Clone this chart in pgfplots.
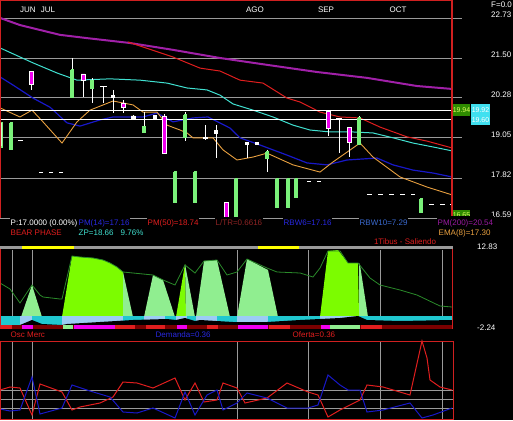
\documentclass[border=0pt]{standalone}
\usepackage{pgfplots}
\pgfplotsset{compat=1.18}
\usepackage{fontspec}
\setmainfont{Liberation Sans}
\definecolor{gridg}{HTML}{9A9A9A}
\definecolor{purp}{HTML}{A020A8}
\definecolor{redl}{HTML}{E01E1E}
\definecolor{cyl}{HTML}{40E0D0}
\definecolor{bll}{HTML}{1818C8}
\definecolor{orl}{HTML}{E8A040}
\definecolor{mag}{HTML}{F000F0}
\definecolor{lgr}{HTML}{90EE90}
\definecolor{chg}{HTML}{7CFC00}
\definecolor{dgr}{HTML}{2A8A2A}
\definecolor{band}{HTML}{20C8D0}
\definecolor{lbl}{HTML}{9CCCF4}
\definecolor{dred}{HTML}{7A0000}
\definecolor{brd}{HTML}{D02020}
\definecolor{boxg}{HTML}{2E8B00}
\definecolor{boxt}{HTML}{E0FF60}
\definecolor{boxc}{HTML}{40E0F0}
\definecolor{yel}{HTML}{FFFF00}
\definecolor{ltr}{HTML}{8E2424}
\definecolor{rbw}{HTML}{3A6AD0}
\definecolor{txb}{HTML}{2828E0}
\definecolor{pur2}{HTML}{9A1AA0}
\pgfplotsset{
  cdw/.style={white, line width=1pt},
  cgr/.style={draw=lgr!85!green, fill=lgr!35!white, line width=1.2pt},
  cmg/.style={draw=white, fill=mag, line width=0.5pt},
  cwh/.style={draw=white, fill=white, line width=0.8pt},
  gl/.style={gridg, line width=0.8pt},
}
\begin{document}
\begin{tikzpicture}
\fill[black] (0pt,0pt) rectangle (513pt,420pt);
% ================= MAIN PRICE PANEL =================
\begin{axis}[at={(0pt,202pt)},anchor=south west,width=513pt,height=218pt,scale only axis,hide axis,clip=false,xmin=0,xmax=513,ymin=16.59,ymax=23.28]
\addplot[gl] coordinates {(0,22.73)(462,22.73)};
\addplot[gl] coordinates {(0,21.50)(462,21.50)};
\addplot[gl] coordinates {(0,20.28)(462,20.28)};
\addplot[gl] coordinates {(0,19.05)(462,19.05)};
\addplot[gl] coordinates {(0,17.82)(462,17.82)};
\addplot[gl] coordinates {(0,16.59)(462,16.59)};
% PM(200)
\addplot[purp,line width=2pt] coordinates {(0,22.73)(20,22.51)(60,22.21)(87,22.11)(130,21.96)(173,21.75)(220,21.50)(267,21.29)(317,21.07)(367,20.89)(417,20.64)(452,20.55)};
% PM(50)
\addplot[redl,line width=1pt] coordinates {(128,21.99)(173,21.53)(200,21.19)(220,21.10)(240,20.82)(263,20.73)(287,20.27)(300,20.15)(320,19.84)(340,19.69)(360,19.66)(380,19.38)(407,19.08)(427,18.95)(452,18.74)};
% RBW10
\addplot[cyl,line width=1pt] coordinates {(0,21.81)(33,21.35)(57,21.04)(77,20.82)(110,20.86)(140,20.82)(167,20.73)(187,20.58)(207,20.52)(220,20.36)(233,20.09)(253,19.90)(273,19.69)(293,19.44)(310,19.29)(330,19.23)(353,19.23)(373,19.20)(393,19.05)(413,18.89)(433,18.77)(452,18.65)};
% PM(14)
\addplot[bll,line width=1.2pt] coordinates {(0,20.92)(13,20.67)(33,20.27)(50,19.99)(67,19.51)(80,19.41)(100,19.60)(113,19.69)(143,19.69)(157,19.81)(173,19.54)(193,19.66)(208,19.69)(230,19.35)(240,19.05)(260,18.83)(287,18.52)(307,18.28)(327,18.22)(347,18.37)(377,18.43)(393,18.22)(413,18.06)(433,17.97)(452,17.85)};
% EMA(8)
\addplot[orl,line width=0.9pt] coordinates {(0,19.97)(20,19.69)(32,19.90)(43,19.54)(62,18.89)(77,19.54)(90,19.90)(113,20.18)(133,20.06)(143,19.84)(157,19.84)(167,19.44)(180,19.29)(187,19.20)(193,19.05)(213,19.05)(223,18.68)(237,18.37)(253,18.46)(267,18.58)(293,18.22)(320,18.00)(333,18.31)(360,18.89)(373,18.46)(400,17.85)(427,17.54)(452,17.30)};
% horizontal levels
\addplot[white,line width=1pt] coordinates {(0,19.90)(452,19.90)};
\addplot[white,line width=1pt] coordinates {(0,19.60)(452,19.60)};
% ---- candles ----
\addplot[cgr] coordinates {(0.5,19.51)(2.5,19.51)(2.5,18.77)(0.5,18.77)(0.5,19.51)};
\addplot[cgr] coordinates {(10,19.51)(12,19.51)(12,18.71)(10,18.71)(10,19.51)};
\addplot[cdw,line width=1.2pt] coordinates {(18,18.98)(23,18.98)};
\addplot[cdw] coordinates {(31,21.10)(31,20.52)};
\addplot[cmg] coordinates {(29,21.10)(33,21.10)(33,20.70)(29,20.70)(29,21.10)};
\addplot[cdw] coordinates {(39,18.00)(43,18.00)};
\addplot[cdw] coordinates {(49,18.00)(53,18.00)};
\addplot[cdw] coordinates {(59,18.00)(63,18.00)};
\addplot[cdw] coordinates {(72,21.50)(72,20.30)};
\addplot[cgr] coordinates {(71,21.13)(73,21.13)(73,20.30)(71,20.30)(71,21.13)};
\addplot[cdw] coordinates {(83,21.01)(83,20.30)};
\addplot[cmg] coordinates {(81,21.01)(85,21.01)(85,20.82)(81,20.82)(81,21.01)};
\addplot[cdw] coordinates {(92,20.89)(92,20.12)};
\addplot[cgr] coordinates {(91,20.82)(93,20.82)(93,20.58)(91,20.58)(91,20.82)};
\addplot[cdw] coordinates {(103,20.64)(103,20.12)};
\addplot[cdw] coordinates {(100,20.64)(107,20.64)};
\addplot[cdw] coordinates {(113,20.52)(113,19.81)};
\addplot[cwh] coordinates {(111.5,20.36)(114.5,20.36)(114.5,20.30)(111.5,20.30)(111.5,20.36)};
\addplot[cdw] coordinates {(123,20.21)(123,19.81)};
\addplot[cmg] coordinates {(121,20.12)(125,20.12)(125,19.99)(121,19.99)(121,20.12)};
\addplot[cdw] coordinates {(133,19.75)(133,19.63)};
\addplot[cwh] coordinates {(131,19.72)(135,19.72)(135,19.66)(131,19.66)(131,19.72)};
\addplot[cdw] coordinates {(144,19.84)(144,19.23)};
\addplot[cgr] coordinates {(143,19.41)(145,19.41)(145,19.23)(143,19.23)(143,19.41)};
\addplot[cwh] coordinates {(153.5,19.75)(156.5,19.75)(156.5,19.66)(153.5,19.66)(153.5,19.75)};
\addplot[cdw] coordinates {(164,19.78)(164,18.58)};
\addplot[cmg] coordinates {(162,19.72)(166,19.72)(166,18.58)(162,18.58)(162,19.72)};
\addplot[cgr] coordinates {(174,18.00)(176,18.00)(176,17.08)(174,17.08)(174,18.00)};
\addplot[cdw] coordinates {(185,19.84)(185,18.95)};
\addplot[cgr] coordinates {(184,19.75)(186,19.75)(186,19.05)(184,19.05)(184,19.75)};
\addplot[cgr] coordinates {(194,18.00)(196,18.00)(196,17.08)(194,17.08)(194,18.00)};
\addplot[cdw] coordinates {(205,19.44)(205,18.98)};
\addplot[cdw,line width=1.5pt] coordinates {(203,19.05)(208,19.05)};
\addplot[cdw] coordinates {(216,19.44)(216,18.43)};
\addplot[cwh] coordinates {(214.5,19.29)(217.5,19.29)(217.5,19.20)(214.5,19.20)(214.5,19.29)};
\addplot[cmg] coordinates {(224,17.08)(228,17.08)(228,16.59)(224,16.59)(224,17.08)};
\addplot[cgr] coordinates {(235,17.79)(237,17.79)(237,16.59)(235,16.59)(235,17.79)};
\addplot[cdw] coordinates {(247,18.92)(247,18.43)};
\addplot[cwh] coordinates {(245.5,18.92)(248.5,18.92)(248.5,18.86)(245.5,18.86)(245.5,18.92)};
\addplot[cwh] coordinates {(255.5,18.92)(258.5,18.92)(258.5,18.86)(255.5,18.86)(255.5,18.92)};
\addplot[cdw] coordinates {(267,18.68)(267,18.00)};
\addplot[cgr] coordinates {(266,18.62)(268,18.62)(268,18.43)(266,18.43)(266,18.62)};
\addplot[cgr] coordinates {(276,17.79)(278,17.79)(278,16.90)(276,16.90)(276,17.79)};
\addplot[cgr] coordinates {(287,17.79)(289,17.79)(289,16.90)(287,16.90)(287,17.79)};
\addplot[cgr] coordinates {(295,17.79)(297,17.79)(297,17.23)(295,17.23)(295,17.79)};
\addplot[cdw] coordinates {(307,17.70)(311,17.70)};
\addplot[cdw] coordinates {(317,17.70)(321,17.70)};
\addplot[cdw] coordinates {(328,19.90)(328,19.11)};
\addplot[cmg] coordinates {(326,19.87)(330,19.87)(330,19.35)(326,19.35)(326,19.87)};
\addplot[cdw] coordinates {(339,19.63)(339,18.58)};
\addplot[cdw] coordinates {(336,19.63)(342,19.63)};
\addplot[cdw] coordinates {(349,19.38)(349,18.46)};
\addplot[cmg] coordinates {(347,19.38)(351,19.38)(351,18.92)(347,18.92)(347,19.38)};
\addplot[cdw] coordinates {(359,19.72)(359,18.86)};
\addplot[cgr] coordinates {(358,19.66)(360,19.66)(360,18.86)(358,18.86)(358,19.66)};
\addplot[cdw] coordinates {(367,17.30)(372,17.30)};
\addplot[cdw] coordinates {(378,17.30)(383,17.30)};
\addplot[cdw] coordinates {(389,17.30)(394,17.30)};
\addplot[cdw] coordinates {(400,17.30)(405,17.30)};
\addplot[cdw] coordinates {(411,17.30)(415,17.30)};
\addplot[cgr] coordinates {(420,17.17)(422,17.17)(422,16.77)(420,16.77)(420,17.17)};
\addplot[cdw] coordinates {(429,16.99)(434,16.99)};
\addplot[cdw] coordinates {(440,16.99)(445,16.99)};
\addplot[cdw] coordinates {(450,16.99)(452,16.99)};
% border
\addplot[brd,line width=1.2pt] coordinates {(0,16.59)(0,23.28)(452,23.28)(452,16.59)};
\end{axis}
% ================= OSCILLATOR + BOTTOM PANEL =================
\begin{axis}[at={(0pt,0pt)},anchor=south west,width=513pt,height=180pt,scale only axis,hide axis,clip=false,xmin=0,xmax=513,ymin=240,ymax=420,y dir=reverse]
\addplot[gl] coordinates {(12,250)(12,317)};
\addplot[gl] coordinates {(32,250)(32,317)};
\addplot[gl] coordinates {(237,250)(237,317)};
\addplot[gl] coordinates {(308,250)(308,317)};
\addplot[gl] coordinates {(380,250)(380,317)};
\addplot[gl] coordinates {(442,250)(442,317)};
% filled areas
\addplot[fill=lgr,draw=none] coordinates {(21,317)(32,285)(42,317)};
\addplot[fill=chg,draw=none] coordinates {(62,317)(72,256)(80,257)(93,258)(103,260)(110,263)(117,267)(123,272)(123,317)};
\addplot[fill=lgr,draw=none] coordinates {(123,272)(133,317)(123,317)};
\addplot[fill=lgr,draw=none] coordinates {(144,317)(153,275)(163,280)(175,317)};
\addplot[fill=chg,draw=none] coordinates {(176,317)(185,264)(186,317)};
\addplot[fill=lgr,draw=none] coordinates {(185,264)(195,317)(186,317)};
\addplot[fill=lgr,draw=none] coordinates {(196,317)(204,261)(217,260)(230,317)};
\addplot[fill=lgr,draw=none] coordinates {(237,317)(247,259)(268,270)(278,317)};
\addplot[fill=chg,draw=none] coordinates {(320,317)(328,251)(338,250)(348,263)(358,263)(359,317)};
\addplot[fill=lgr,draw=none] coordinates {(359,263)(360,265)(368,317)(359,317)};
% band
\addplot[band,line width=9pt] coordinates {(0,320.5)(452,320.5)};
\addplot[fill=lbl,draw=none] coordinates {(20,316)(32,316)(32,325)(20,325)};
\addplot[fill=lbl,draw=none] coordinates {(62,316)(123,316)(123,325)(62,325)};
\addplot[fill=lbl,draw=none] coordinates {(144,316)(165,316)(165,325)(144,325)};
\addplot[fill=lbl,draw=none] coordinates {(176,316)(187,316)(187,325)(176,325)};
\addplot[fill=lbl,draw=none] coordinates {(196,316)(217,316)(217,325)(196,325)};
\addplot[fill=lbl,draw=none] coordinates {(237,316)(268,316)(268,325)(237,325)};
\addplot[fill=lbl,draw=none] coordinates {(320,316)(358,316)(358,319)(320,319)};
\addplot[fill=black,draw=none] coordinates {(0,325)(20,325)(32,320)(42,324)(62,325)(67,324)(100,322)(133,320)(167,319)(176,320)(185,318)(195,321)(200,320)(233,322)(267,322)(300,320)(320,319)(340,318)(358,316)(367,320)(400,321)(452,320)(452,325)};
% bottom stripe
\addplot[dred,line width=4pt] coordinates {(0,327)(452,327)};
\addplot[redl,line width=4pt] coordinates {(0,327)(12,327)};
\addplot[mag,line width=4pt] coordinates {(22,327)(33,327)};
\addplot[lgr,line width=4pt] coordinates {(63,327)(73,327)};
\addplot[mag,line width=4pt] coordinates {(74,327)(115,327)};
\addplot[redl,line width=4pt] coordinates {(115,327)(135,327)};
\addplot[redl,line width=4pt] coordinates {(146,327)(165,327)};
\addplot[mag,line width=4pt] coordinates {(177,327)(187,327)};
\addplot[redl,line width=4pt] coordinates {(207,327)(218,327)};
\addplot[mag,line width=4pt] coordinates {(238,327)(268,327)};
\addplot[redl,line width=4pt] coordinates {(269,327)(290,327)};
\addplot[mag,line width=4pt] coordinates {(321,327)(330,327)};
\addplot[lgr,line width=4pt] coordinates {(330,327)(360,327)};
\addplot[redl,line width=4pt] coordinates {(361,327)(382,327)};
% top bar
\addplot[gridg,line width=3.5pt] coordinates {(0,247.5)(453,247.5)};
\addplot[yel,line width=3.5pt] coordinates {(22,247.5)(74,247.5)};
\addplot[yel,line width=3.5pt] coordinates {(258,247.5)(299,247.5)};
% oscillator line
\addplot[dgr,line width=0.8pt] coordinates {(0,283)(10,289)(20,303)(32,285)(40,295)(43,297)(60,299)(62,299)(72,256)(80,257)(93,258)(103,260)(110,263)(117,267)(123,272)(133,273)(153,275)(163,280)(175,285)(185,265)(195,273)(204,261)(217,260)(227,275)(237,272)(247,259)(267,268)(277,272)(300,273)(313,277)(320,268)(328,251)(340,251)(348,263)(358,263)(370,278)(380,285)(400,290)(417,295)(440,306)(452,307)};
\addplot[brd,line width=1pt] coordinates {(0,249)(0,329)};
\addplot[brd,line width=1pt] coordinates {(452,249)(452,329)};
% ---- Osc Merc panel ----
\addplot[gl] coordinates {(12,341)(12,419)};
\addplot[gl] coordinates {(32,341)(32,419)};
\addplot[gl] coordinates {(237,341)(237,419)};
\addplot[gl] coordinates {(308,341)(308,419)};
\addplot[gl] coordinates {(380,341)(380,419)};
\addplot[gl] coordinates {(442,341)(442,419)};
\addplot[gl] coordinates {(0,390)(453,390)};
\addplot[gl] coordinates {(0,399)(453,399)};
\addplot[gl] coordinates {(0,408)(453,408)};
\addplot[redl,line width=1pt] coordinates {(0,390)(10,387)(20,388)(32,415)(40,384)(62,392)(72,410)(80,407)(100,403)(113,397)(123,382)(137,383)(153,388)(175,378)(185,400)(195,383)(204,402)(217,400)(223,383)(237,388)(245,403)(267,398)(287,383)(308,392)(318,395)(328,417)(340,410)(360,400)(367,385)(383,387)(410,395)(422,341)(427,358)(430,380)(440,387)(452,390)};
\addplot[bll,line width=1pt] coordinates {(0,409)(10,411)(20,410)(32,377)(40,414)(62,408)(72,385)(90,391)(110,397)(123,412)(137,413)(153,408)(175,418)(185,392)(195,415)(207,395)(217,390)(223,410)(237,403)(247,393)(267,398)(287,408)(308,408)(318,405)(328,375)(340,385)(348,390)(360,390)(367,412)(383,410)(410,403)(422,418)(433,415)(452,408)};
\addplot[brd,line width=1pt] coordinates {(0,341)(453,341)(453,419)(0,419)(0,341)};
\end{axis}
% ================= TEXT =================
\begin{scope}[x=1pt,y=1pt,font=\fontsize{8}{9}\selectfont]
\node[text=white] at (28,410) {JUN};
\node[text=white] at (48,410) {JUL};
\node[text=white] at (255,410) {AGO};
\node[text=white] at (326,410) {SEP};
\node[text=white] at (398,410) {OCT};
\node[text=white,anchor=west,inner sep=0pt] at (491,415) {F=0.0};
\node[text=white,anchor=west,inner sep=0pt] at (491,405) {22.73};
\node[text=white,anchor=west,inner sep=0pt] at (491,365) {21.50};
\node[text=white,anchor=west,inner sep=0pt] at (491,325) {20.28};
\node[text=white,anchor=west,inner sep=0pt] at (491,285) {19.05};
\node[text=white,anchor=west,inner sep=0pt] at (491,245) {17.82};
\node[text=white,anchor=west,inner sep=0pt] at (491,205) {16.59};
\node[fill=boxg,text=boxt,inner sep=0pt,minimum width=17pt,minimum height=12pt,font=\fontsize{7}{8}\selectfont] at (461.5,310) {19.94};
\node[fill=boxc,inner sep=0pt,minimum width=19pt,minimum height=21pt] at (480.5,305.5) {};
\node[text=white,inner sep=0pt,font=\fontsize{7}{8}\selectfont] at (480.5,310) {19.92};
\node[text=white,inner sep=0pt,font=\fontsize{7}{8}\selectfont] at (480.5,300) {19.60};
\node[fill=boxg,text=boxt,inner sep=0pt,minimum width=17pt,minimum height=11pt,font=\fontsize{7}{8}\selectfont] at (461.5,204.5) {16.65};
% row 1
\node[fill=black,text=white,anchor=west,inner xsep=0.5pt,inner ysep=3pt] at (10,197) {P:17.0000 (0.00\%)};
\node[fill=black,text=txb,anchor=west,inner xsep=0.5pt,inner ysep=3pt] at (78,197) {PM(14)=17.16};
\node[fill=black,text=redl,anchor=west,inner xsep=0.5pt,inner ysep=3pt] at (147,197) {PM(50)=18.74};
\node[fill=black,text=ltr,anchor=west,inner xsep=0.5pt,inner ysep=3pt] at (215,197) {L/TR=0.6616};
\node[fill=black,text=txb,anchor=west,inner xsep=0.5pt,inner ysep=3pt] at (283,197) {RBW6=17.16};
\node[fill=black,text=rbw,anchor=west,inner xsep=0.5pt,inner ysep=3pt] at (359,197) {RBW10=7.29};
\node[fill=black,text=pur2,anchor=west,inner xsep=0.5pt,inner ysep=3pt] at (437,197) {PM(200)=20.54};
% row 2
\node[text=redl,anchor=west,inner sep=0.5pt] at (10,187) {BEAR PHASE};
\node[text=cyl,anchor=west,inner sep=0.5pt] at (78,187) {ZP=18.66};
\node[text=cyl,anchor=west,inner sep=0.5pt] at (120,187) {9.76\%};
\node[text=orl,anchor=west,inner sep=0.5pt] at (438,187) {EMA(8)=17.30};
\node[text=redl,inner sep=0.5pt] at (405,178) {1Tibus - Saliendo};
\node[text=white,anchor=west,inner sep=0pt] at (477,173) {12.83};
\node[text=white,anchor=west,inner sep=0pt] at (477,92) {-2.24};
\node[text=redl,anchor=west,inner sep=0.5pt] at (10,85) {Osc Merc};
\node[text=txb,anchor=west,inner sep=0.5pt] at (155,85) {Demanda=0.36};
\node[text=redl,anchor=west,inner sep=0.5pt] at (292,85) {Oferta=0.36};
\end{scope}
\pgfresetboundingbox
\useasboundingbox (0pt,0pt) rectangle (513pt,420pt);
\end{tikzpicture}
\end{document}
